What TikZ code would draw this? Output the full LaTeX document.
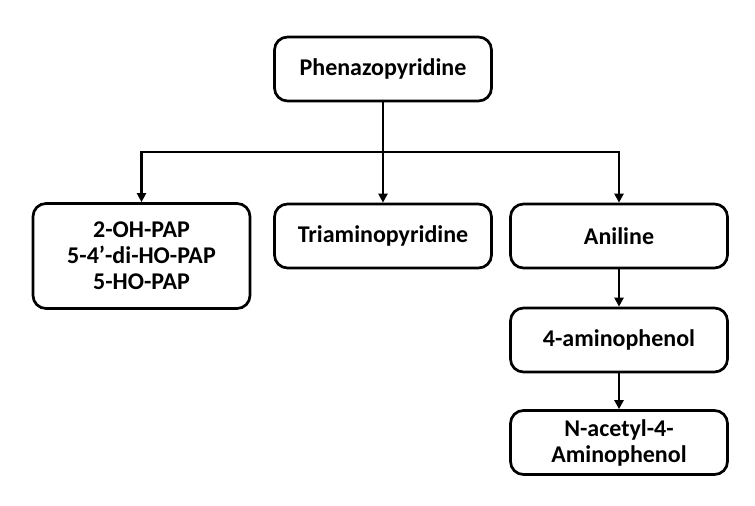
\documentclass[tikz,border=0pt]{standalone}
\usepackage{fontspec}
\setmainfont{Carlito}
\usetikzlibrary{arrows.meta}
\begin{document}
\begin{tikzpicture}[x=1pt,y=1pt,
  box/.style={draw=black, line width=2.7pt, rounded corners=13pt, fill=white,
    minimum width=217pt, minimum height=64pt, align=center,
    font=\fontsize{24}{26}\selectfont\bfseries, inner sep=0pt},
  arr/.style={line width=2.5pt, -{Triangle[length=9pt,width=9pt]}},
  ln/.style={line width=2.5pt}]
\useasboundingbox (0,0) rectangle (755,506);
\node[box] (phen) at (383,437) {Phenazopyridine};
\node[box, minimum height=105pt] (left) at (141.5,250) {2-OH-PAP\\5-4’-di-HO-PAP\\5-HO-PAP};
\node[box] (tri) at (383,270) {Triaminopyridine};
\node[box] (ani) at (619,270) {Aniline};
\node[box] (amino) at (619,166) {4-aminophenol};
\node[box] (nac) at (619,63.5) {N-acetyl-4-\\Aminophenol};
\coordinate (j) at (383,354);
\draw[ln] (phen.south) -- (j);
\draw[arr] (j) -| (left.north);
\draw[arr] (j) -| (ani.north);
\draw[arr] (j) -- (tri.north);
\draw[arr] (ani.south) -- (amino.north);
\draw[arr] (amino.south) -- (nac.north);
\end{tikzpicture}
\end{document}
